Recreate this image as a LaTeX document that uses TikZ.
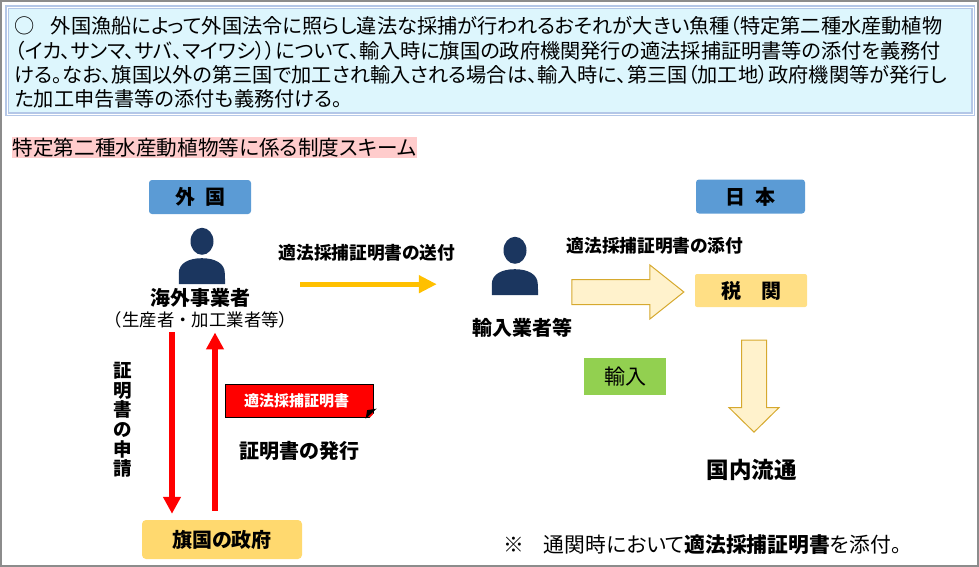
\documentclass[tikz,border=0pt]{standalone}
\usepackage{fontspec}
\setmainfont[RawFeature={+palt}]{Noto Sans CJK JP}
\newfontfamily\plainjp{Noto Sans CJK JP}
\usepackage{xcolor}
\usetikzlibrary{arrows.meta, positioning, shapes.arrows}
\definecolor{framegray}{HTML}{8C8C8C}
\definecolor{topblue}{HTML}{B4C7E7}
\definecolor{topfill}{HTML}{DDF6FD}
\definecolor{titlepink}{HTML}{FFCCCC}
\definecolor{countryblue}{HTML}{5B9BD5}
\definecolor{persondark}{HTML}{1B365F}
\definecolor{govyellow}{HTML}{FFD96F}
\definecolor{blockfill}{HTML}{FFF2CC}
\definecolor{blockedge}{HTML}{D6A92E}
\definecolor{importgreen}{HTML}{92D050}
\definecolor{sendorange}{HTML}{FFC000}
\newcommand{\fsize}[1]{\fontsize{#1}{#1}\selectfont}

\begin{document}
\begin{tikzpicture}[
            x=1pt, y=-1pt,
            node distance=2pt,
            every node/.style={inner sep=0pt},
            topbox/.style={draw=topblue, line width=1.4pt, double=white, double distance=1pt, fill=topfill, minimum width=966pt, minimum height=107pt},
            countrybox/.style={fill=countryblue, rounded corners=3pt, minimum height=34pt, font=\fsize{20}\bfseries},
            govbox/.style={fill=govyellow, rounded corners=4pt, font=\fsize{20}\bfseries},
            personnode/.style={minimum width=46pt},
            blockarrow/.style={single arrow, draw=blockedge, line width=1pt, fill=blockfill, inner xsep=0pt, inner ysep=12pt, single arrow head indent=0pt},
            boldlabel/.style={font=\fsize{20}\bfseries},
            redarrow/.style={-{Triangle[length=17pt, width=17pt]}, line width=6pt, red},
            ]
            \useasboundingbox (0,0) rectangle (979,567);
            \draw[framegray, line width=2.4pt] (0.5,1) rectangle (978,566);

            \node[topbox, anchor=north west] (summary) at (6.5,6.5) {};
            \node[anchor=west, align=left, font=\fontsize{20.2}{24.4}\selectfont] (summarytext) at (14.5,62.5) {○\hspace{16pt}外国漁船によって外国法令に照らし違法な採捕が行われるおそれが大きい魚種（特定第二種水産動植物\\
            （イカ、サンマ、サバ、マイワシ））について、輸入時に旗国の政府機関発行の適法採捕証明書等の添付を義務付\\
            ける。なお、旗国以外の第三国で加工され輸入される場合は、輸入時に、第三国（加工地）政府機関等が発行し\\
            た加工申告書等の添付も義務付ける。};
            \node[fill=titlepink, minimum height=21pt, minimum width=405pt, font=\fsize{20.6}] (title) at (214.5,147.5) {特定第二種水産動植物等に係る制度スキーム};

            \node[countrybox, minimum width=102pt] (abroad) at (200,197) {外\hspace{10pt}国};
            \node[countrybox, minimum width=109pt] (japan) at (750.5,196.5) {日\hspace{10pt}本};

            \node[personnode, minimum height=56pt] (exporter) at (202,256) {};
            \node[personnode, minimum height=58pt] (importer) at (515,266) {};
            \foreach \who in {exporter, importer} {
                \fill[persondark] (\who.north) ++(0,13.5) ellipse (11.5 and 13.5);
                \fill[persondark] (\who.south west) -- ++(0,-11) .. controls +(0,-10) and +(-13,0) .. ++(23,-15) .. controls +(13,0) and +(0,-10) .. ++(23,15) -- (\who.south east) -- cycle;
            }

            \node[boldlabel] (exportername) at (200,298) {海外事業者};
            \node[font=\plainjp\fsize{17.4}] (exportersub) at (200.5,320) {（生産者・加工業者等）};
            \node[boldlabel] (importername) at (522.5,328) {輸入業者等};

            \node[font=\fsize{17.7}\bfseries] (sendlabel) at (367,253) {適法採捕証明書の送付};
            \draw[-{Triangle[length=18pt, width=17pt]}, line width=5pt, sendorange, shorten <=75pt, shorten >=55pt] (exporter.south east) -- (exporter.south east -| importer.west);

            \node[govbox, minimum width=160pt, minimum height=39pt] (flagstate) at (222,539.5) {旗国の政府};
            \draw[redarrow, shorten <=4pt, shorten >=6pt] (exportersub.south -| 172,0) -- (flagstate.north -| 172,0);
            \draw[redarrow, shorten <=9pt, shorten >=4pt] (flagstate.north -| 215,0) -- (exportersub.south -| 215,0);

            \node[font=\fontsize{18.5}{19.6}\selectfont\bfseries, align=center] (requestlabel) at (123,420) {証\\明\\書\\の\\申\\請};

            \node[fill=red, draw=black, line width=1.3pt, minimum width=148pt, minimum height=33pt, text=white, font=\fsize{15}\bfseries] (certificate) at (299.5,401) {\hspace{-6pt}適法採捕証明書};
            \fill[white] (certificate.south east) ++(3,-8) -- ++(0,11) -- ++(-10.5,0) -- cycle;
            \fill[black] (certificate.south east) ++(2.5,-9.5) -- ++(-11,10) -- ++(1.5,-8.5) -- cycle;
            \node[boldlabel] (issuelabel) at (299.5,451) {証明書の発行};

            \node[font=\fsize{17.7}\bfseries] (attachlabel) at (655,246) {適法採捕証明書の添付};
            \node[blockarrow, minimum height=112pt, single arrow head extend=14.5pt, single arrow tip angle=77] (attacharrow) at (620,292) {};
            \node[govbox, fill=govyellow!85!white, minimum width=112pt, minimum height=33pt, rounded corners=2pt] (customs) at (751,290.5) {税\hspace{20pt}関};
            \node[fill=importgreen, minimum width=82pt, minimum height=37pt, font=\fsize{21}] (importbox) at (625,376.5) {輸入};
            \node[blockarrow, rotate=-90, minimum height=92pt, single arrow head extend=12.5pt, single arrow tip angle=91] (distarrow) at (754,380) {};
            \node[font=\fsize{22.5}\bfseries] (domestic) at (751.5,470) {国内流通};

            \node[font=\fsize{20.8}, anchor=west] (note) at (503,545) {※\hspace{20pt}通関時において\textbf{適法採捕証明書}を添付。};
        \end{tikzpicture}
\end{document}
